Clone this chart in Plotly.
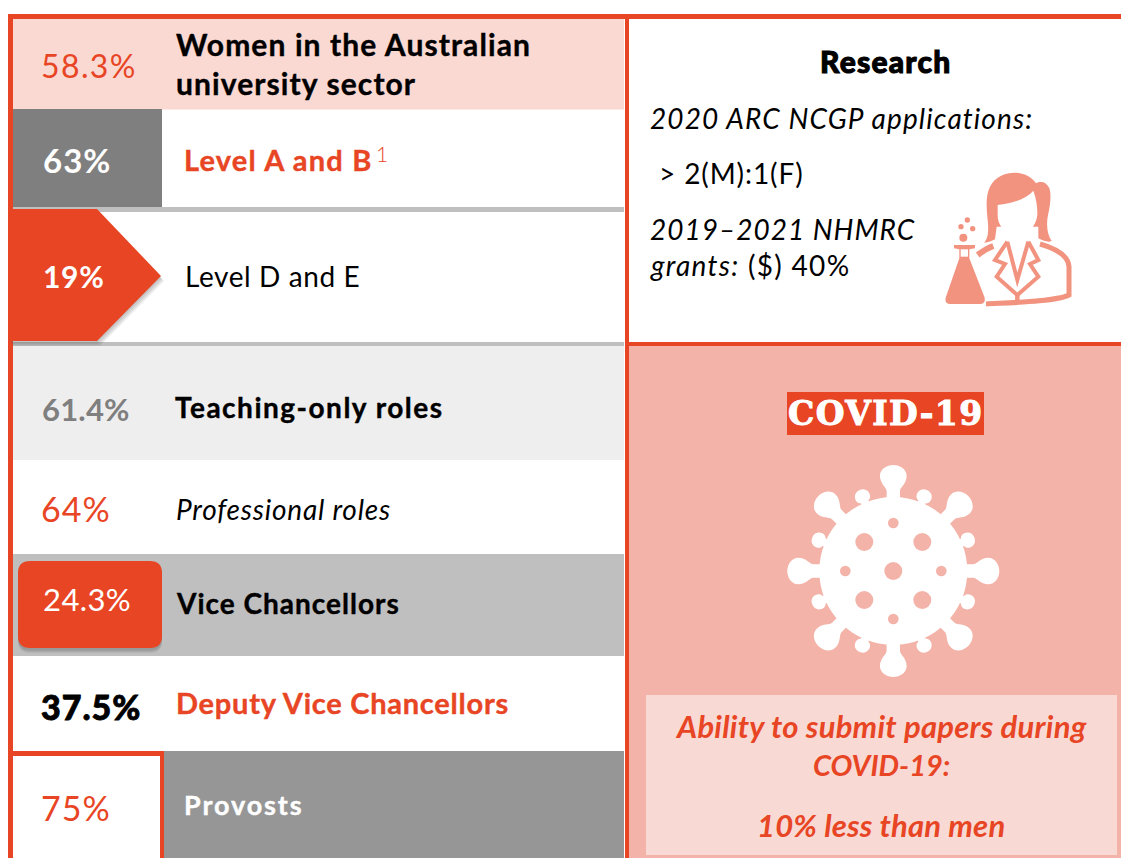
"""
Women in the Australian university sector infographic, drawn on a pixel canvas.
"""
import math
import re
import plotly.graph_objects as go

W, H = 1121, 858
RED = "#E84524"
PINK = "#FAD9D3"
SALMON = "#F4B3A8"
ICON = "#F29380"
FONT = "Lato"

# the stats, top to bottom of the left column
row_percents = ["58.3%", "63%", "19%", "61.4%", "64%", "24.3%", "37.5%", "75%"]
row_labels = [
    "Women in the Australian<br>university sector",
    "Level A and B",
    "Level D and E",
    "Teaching-only roles",
    "Professional roles",
    "Vice Chancellors",
    "Deputy Vice Chancellors",
    "Provosts",
]
research_lines = [
    "2020 ARC NCGP applications:",
    "> 2(M):1(F)",
    "2019–2021 NHMRC",
    "<i>grants:</i> ($) 40%",
]
covid_lines = ["Ability to submit papers during", "COVID-19:", "10% less than men"]

# percent text: x, y, colour, weight, size, letter spacing
pct_style = [
    (42, 66, RED, 400, 32, 1.4), (44, 161, "white", 700, 33, 1), (44, 277, "white", 700, 30, 0.7),
    (43, 410, "#7F7F7F", 700, 31, 0.2), (42, 509, RED, 400, 34, 1), (44, 600, "white", 400, 31, 0.4),
    (42, 707, "black", 900, 34, 1), (42, 808, RED, 400, 34, 1),
]
# label text: x, y, colour, weight, slant, size, letter spacing
label_style = [
    (177, 64, "black", 700, "normal", 30, 1.1), (185, 160, RED, 700, "normal", 29, 1.2),
    (186, 277, "black", 400, "normal", 28, 0.6), (176, 408, "black", 700, "normal", 28, 1.5),
    (177, 510, "black", 400, "italic", 28, 0.8), (177, 604, "black", 700, "normal", 28, 1),
    (177, 703, RED, 700, "normal", 29, 0.75), (185, 805, "white", 700, "normal", 27, 1.9),
]
# covid box lines: y, size, letter spacing
covid_style = [(727, 31, 0.25), (765, 29, 0), (826, 31, 0.2)]

fig = go.Figure()


def rect(x0, y0, x1, y1, color):
    fig.add_shape(type="rect", x0=x0, y0=y0, x1=x1, y1=y1,
                  fillcolor=color, line_width=0)


def path(d, color, opacity=1):
    fig.add_shape(type="path", path=d, fillcolor=color, opacity=opacity, line_width=0)


def stroke(d, color, width):
    fig.add_shape(type="path", path=d, line=dict(color=color, width=width))


def circle(cx, cy, r, color):
    fig.add_shape(type="circle", x0=cx - r, y0=cy - r, x1=cx + r, y1=cy + r,
                  fillcolor=color, line_width=0)


def place(d, ox, oy, k, deg=0):
    """Scale, rotate and move an icon path written in its own local coordinates."""
    a = math.radians(deg)
    ca, sa = math.cos(a), math.sin(a)

    def pair(m):
        x, y = float(m.group(1)), float(m.group(2))
        return f"{ox + k * (x * ca - y * sa):.2f},{oy + k * (x * sa + y * ca):.2f}"

    return re.sub(r"(-?[\d.]+),(-?[\d.]+)", pair, d)


def text(x, y, s, color="black", size=28, weight=400, style="normal",
         anchor="left", family=FONT, spacing=0, heavy=0):
    css = f"letter-spacing:{spacing}px"
    if heavy:
        css += f";stroke:{color};stroke-width:{heavy}px"
    s = "<br>".join(f'<span style="{css}">{line}</span>' for line in s.split("<br>"))
    # annotations sit about 2px right and 1px low of the given point
    dx = -2 if anchor == "left" else 0
    fig.add_annotation(x=x + dx, y=y - 1, text=s, showarrow=False, xanchor=anchor, yanchor="middle",
                       align=anchor, borderpad=0,
                       font=dict(family=family, size=size, color=color,
                                 weight=weight, style=style))


# --- left column bands
rect(13, 19, 624, 109.5, PINK)
rect(13, 109, 162, 207, "#7F7F7F")
rect(12, 207, 624, 212, "#BFBFBF")
rect(12, 342, 624, 346, "#BFBFBF")
rect(13, 346, 624, 460, "#EEEEEE")
rect(13, 554, 624, 656, "#BFBFBF")
rect(164, 751, 624, 858, "#969696")

# --- right column
rect(629, 346, W, 858, SALMON)
rect(787, 392, 984, 435, RED)
rect(646, 695, 1117, 855, "#F9D9D4")

# --- frame rules
rect(8, 14, W, 19, RED)
rect(8, 14, 13, 858, RED)
rect(625, 14, 629, 858, RED)
rect(625, 342, W, 346, RED)
rect(13, 751, 164, 756, RED)
rect(160, 751, 164, 858, RED)

# --- arrow and rounded box with a soft shadow
ARROW = "M10,209 L97,209 L161,276 L97,341 L10,341 Z"
BOX = ("M30,561 L150,561 Q162,561 162,573 L162,636 Q162,648 150,648 L30,648 "
       "Q18,648 18,636 L18,573 Q18,561 30,561 Z")
for off in (5, 4, 3, 2):
    path(place(ARROW, off - 2, off, 1), "#555555", 0.1)
    path(place(BOX, 0, off, 1), "#555555", 0.1)
path(ARROW, RED)
path(BOX, RED)

# --- scientist icon, local coordinates are 1/3 px
ox, oy, k = 930, 160, 1 / 3
path(place("M163,248 C172,235 176,225 174,190 C170,150 165,110 180,80 C195,50 225,38 255,38 "
           "C280,38 305,50 318,70 C330,62 350,65 358,85 C365,105 360,140 354,165 "
           "C348,195 352,225 365,243 C355,247 345,245 325,235 L325,200 L200,200 L195,238 "
           "C185,243 175,247 163,248 Z", ox, oy, k), ICON)
path(place("M203,135 C250,130 290,115 310,92 C318,115 322,135 322,160 C322,195 295,225 262,225 "
           "C230,225 203,200 203,165 Z", ox, oy, k), "white")
stroke(place("M330,252 C375,265 415,285 417,320 L417,405 C380,425 240,428 168,432", ox, oy, k),
       ICON, 5)
stroke(place("M143,285 C160,272 170,265 190,258", ox, oy, k), ICON, 6)
stroke(place("M232,245 L195,300 L225,312 L200,350 L262,405 L325,350 L300,312 L325,300 L295,245",
             ox, oy, k), ICON, 4)
stroke(place("M232,245 L262,360 L295,245", ox, oy, k), ICON, 4)
stroke(place("M262,405 L262,432", ox, oy, k), ICON, 4.5)
path(place("M72,255 L135,255 L135,265 L118,268 L118,295 L163,410 C168,425 160,432 150,432 "
           "L60,432 C50,432 43,425 48,410 L88,295 L88,268 L72,265 Z", ox, oy, k), ICON)
path(place("M92,268 L114,268 L114,290 L92,290 Z", ox, oy, k), "white")
for cx, cy, r in [(100, 233, 12), (112, 180, 8), (93, 200, 8), (128, 206, 8)]:
    circle(ox + k * cx, oy + k * cy, k * r, ICON)

# --- virus icon, local coordinates are 1/3 px around its centre
vx, vy = 893.3, 571
BIG_KNOB = ("M-20,-200 L-20,-240 C-20,-250 -40,-262 -40,-285 C-40,-305 -20,-318 0,-318 "
            "C20,-318 40,-305 40,-285 C40,-262 20,-250 20,-240 L20,-200 Z")
SMALL_KNOB = "M-12,-200 L-12,-225 C-28,-228 -28,-263 0,-263 C28,-263 28,-228 12,-225 L12,-200 Z"
for i in range(8):
    path(place(BIG_KNOB, vx, vy, k, 45 * i), "white")
    path(place(SMALL_KNOB, vx, vy, k, 22.5 + 45 * i), "white")
circle(vx, vy, 222 * k, "white")
for dx, dy, r in [(0, 0, 27), (-87, -87, 27), (87, -87, 27), (-87, 87, 27), (87, 87, 27),
                  (0, -144, 16), (0, 144, 16), (-144, 0, 16), (144, 0, 16)]:
    circle(vx + k * dx, vy + k * dy, k * r, SALMON)

# --- left column text
for s, (x, y, color, weight, size, sp) in zip(row_percents, pct_style):
    text(x, y, s, color, size, weight, spacing=sp, heavy=0.8 if weight == 900 else 0)
for s, (x, y, color, weight, slant, size, sp) in zip(row_labels, label_style):
    text(x, y, s, color, size, weight, slant, spacing=sp, heavy=0.4 if weight == 700 else 0)
text(377, 154, "1", RED, 21, 300)

# --- right column text
text(885, 62, "Research", "black", 30, 900, anchor="center", spacing=1.2, heavy=1)
text(651, 119, research_lines[0], "black", 28, 400, "italic", spacing=1.1)
text(660, 174, research_lines[1], "black", 28, spacing=0.9)
text(651, 230, research_lines[2], "black", 28, 400, "italic", spacing=1)
text(651, 266, research_lines[3], "black", 28, spacing=1.3)

text(885.5, 414, "COVID-19", "white", 33, 700, anchor="center", family="DejaVu Serif",
     spacing=1.4, heavy=1)
for s, (y, size, sp) in zip(covid_lines, covid_style):
    text(881, y, s, RED, size, 700, "italic", anchor="center", spacing=sp)

fig.update_xaxes(range=[0, W], visible=False, fixedrange=True)
fig.update_yaxes(range=[H, 0], visible=False, fixedrange=True)
fig.update_layout(
    width=W, height=H,
    margin=dict(l=0, r=0, t=0, b=0),
    paper_bgcolor="white", plot_bgcolor="white",
    showlegend=False,
)

fig.write_html("out.html", config=dict(displayModeBar=False),
               post_script="document.body.style.margin='0';document.body.style.overflow='hidden';")
